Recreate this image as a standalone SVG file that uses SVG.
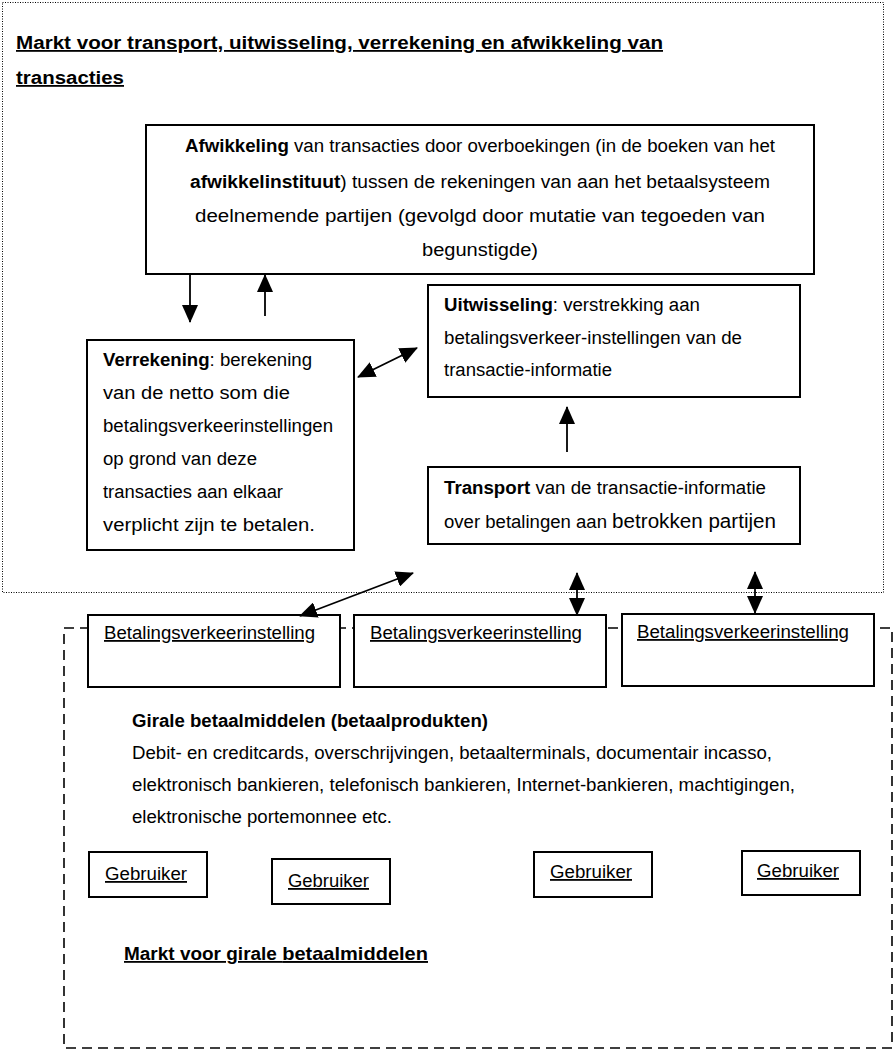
<svg xmlns="http://www.w3.org/2000/svg" width="896" height="1051" viewBox="0 0 896 1051">
<defs>
<style>
.t{font-family:"Liberation Sans",Arial,sans-serif;font-size:18px;fill:#000}
.b{font-weight:bold}
.u{text-decoration:underline}
.box{fill:#fff;stroke:#000;stroke-width:2}
.con{stroke:#000;stroke-width:1.8;fill:none}
</style>
<marker id="ah" markerUnits="userSpaceOnUse" markerWidth="18" markerHeight="16" refX="17" refY="8" orient="auto-start-reverse">
<path d="M0,0 L18,8 L0,16 Z" fill="#000"/>
</marker>
</defs>
<rect width="896" height="1051" fill="#fff"/>

<g id="market-top">
<rect x="2.5" y="2.5" width="881" height="590" fill="none" stroke="#000" stroke-width="1" stroke-dasharray="1,1.5"/>
<text class="t b u" x="16" y="49" font-size="19" textLength="647" lengthAdjust="spacingAndGlyphs">Markt voor transport, uitwisseling, verrekening en afwikkeling van</text>
<text class="t b u" x="16" y="84" font-size="19" textLength="108" lengthAdjust="spacingAndGlyphs">transacties</text>
</g>

<g id="market-bottom">
<rect x="64" y="628" width="828" height="420" fill="none" stroke="#000" stroke-width="1.6" stroke-dasharray="10,6"/>
<text class="t b u" x="124" y="960" font-size="17" textLength="304" lengthAdjust="spacingAndGlyphs">Markt voor girale <tspan font-size="19">betaalmiddelen</tspan></text>
</g>

<g id="afwikkeling">
<rect class="box" x="146" y="125" width="668" height="149"/>
<text class="t" x="480" y="152" text-anchor="middle" textLength="590" lengthAdjust="spacingAndGlyphs"><tspan class="b">Afwikkeling</tspan> van transacties door overboekingen (in de boeken van het</text>
<text class="t" x="480" y="188" text-anchor="middle" textLength="580" lengthAdjust="spacingAndGlyphs"><tspan class="b">afwikkelinstituut</tspan>) tussen de rekeningen van aan het betaalsysteem</text>
<text class="t" x="480" y="222" text-anchor="middle" textLength="570" lengthAdjust="spacingAndGlyphs">deelnemende partijen (gevolgd door mutatie van tegoeden van</text>
<text class="t" x="480" y="256" text-anchor="middle" textLength="116" lengthAdjust="spacingAndGlyphs">begunstigde)</text>
</g>

<g id="verrekening">
<rect class="box" x="87" y="340" width="267" height="210"/>
<text class="t" x="103" y="366" textLength="209" lengthAdjust="spacingAndGlyphs"><tspan class="b">Verrekening</tspan>: berekening</text>
<text class="t" x="103" y="399" textLength="187" lengthAdjust="spacingAndGlyphs">van de netto som die</text>
<text class="t" x="103" y="432" textLength="230" lengthAdjust="spacingAndGlyphs">betalingsverkeerinstellingen</text>
<text class="t" x="103" y="465" textLength="154" lengthAdjust="spacingAndGlyphs">op grond van deze</text>
<text class="t" x="103" y="498" textLength="180" lengthAdjust="spacingAndGlyphs">transacties aan elkaar</text>
<text class="t" x="103" y="531" font-size="20" textLength="212" lengthAdjust="spacingAndGlyphs">verplicht zijn te betalen.</text>
</g>

<g id="uitwisseling">
<rect class="box" x="428" y="285" width="372" height="112"/>
<text class="t" x="444" y="311" textLength="256" lengthAdjust="spacingAndGlyphs"><tspan class="b">Uitwisseling</tspan>: verstrekking aan</text>
<text class="t" x="444" y="344" textLength="298" lengthAdjust="spacingAndGlyphs">betalingsverkeer-instellingen van de</text>
<text class="t" x="444" y="376" textLength="168" lengthAdjust="spacingAndGlyphs">transactie-informatie</text>
</g>

<g id="transport">
<rect class="box" x="428" y="467" width="372" height="77"/>
<text class="t" x="444" y="494" textLength="322" lengthAdjust="spacingAndGlyphs"><tspan class="b">Transport</tspan> van de transactie-informatie</text>
<text class="t" x="444" y="528" textLength="332" lengthAdjust="spacingAndGlyphs">over betalingen aan <tspan font-size="20">betrokken partijen</tspan></text>
</g>

<g id="bvi-1">
<rect class="box" x="88" y="615" width="252" height="72"/>
<text class="t u" x="104" y="639" font-size="17" textLength="211" lengthAdjust="spacingAndGlyphs">Betalingsverkeerinstelling</text>
</g>
<g id="bvi-2">
<rect class="box" x="354" y="615" width="252" height="72"/>
<text class="t u" x="370" y="639" font-size="17" textLength="212" lengthAdjust="spacingAndGlyphs">Betalingsverkeerinstelling</text>
</g>
<g id="bvi-3">
<rect class="box" x="622" y="614" width="252" height="72"/>
<text class="t u" x="637" y="638" font-size="17" textLength="212" lengthAdjust="spacingAndGlyphs">Betalingsverkeerinstelling</text>
</g>

<g id="girale">
<text class="t b" x="132" y="727" font-size="17" textLength="356" lengthAdjust="spacingAndGlyphs">Girale betaalmiddelen (betaalprodukten)</text>
<text class="t" x="132" y="759" font-size="17" textLength="640" lengthAdjust="spacingAndGlyphs">Debit- en creditcards, overschrijvingen, betaalterminals, documentair incasso,</text>
<text class="t" x="132" y="791" font-size="17" textLength="663" lengthAdjust="spacingAndGlyphs">elektronisch bankieren, telefonisch bankieren, Internet-bankieren, machtigingen,</text>
<text class="t" x="132" y="823" font-size="17" textLength="260" lengthAdjust="spacingAndGlyphs">elektronische portemonnee etc.</text>
</g>

<g id="gebruiker-1">
<rect class="box" x="89" y="852" width="118" height="45"/>
<text class="t u" x="105" y="880" font-size="17" textLength="82" lengthAdjust="spacingAndGlyphs">Gebruiker</text>
</g>
<g id="gebruiker-2">
<rect class="box" x="272" y="859" width="118" height="45"/>
<text class="t u" x="288" y="887" font-size="17" textLength="81" lengthAdjust="spacingAndGlyphs">Gebruiker</text>
</g>
<g id="gebruiker-3">
<rect class="box" x="534" y="852" width="118" height="45"/>
<text class="t u" x="550" y="878" font-size="17" textLength="82" lengthAdjust="spacingAndGlyphs">Gebruiker</text>
</g>
<g id="gebruiker-4">
<rect class="box" x="742" y="851" width="118" height="44"/>
<text class="t u" x="757" y="877" font-size="17" textLength="82" lengthAdjust="spacingAndGlyphs">Gebruiker</text>
</g>

<g id="connectors">
<line class="con" x1="190" y1="275" x2="190" y2="322" marker-end="url(#ah)"/>
<line class="con" x1="265" y1="316" x2="265" y2="275" marker-end="url(#ah)"/>
<line class="con" x1="358" y1="377" x2="417" y2="348" marker-start="url(#ah)" marker-end="url(#ah)"/>
<line class="con" x1="567" y1="452" x2="567" y2="407" marker-end="url(#ah)"/>
<line class="con" x1="300" y1="616" x2="413" y2="573" marker-start="url(#ah)" marker-end="url(#ah)"/>
<line class="con" x1="577" y1="573" x2="577" y2="615" marker-start="url(#ah)" marker-end="url(#ah)"/>
<line class="con" x1="755" y1="572" x2="755" y2="613" marker-start="url(#ah)" marker-end="url(#ah)"/>
</g>
</svg>
